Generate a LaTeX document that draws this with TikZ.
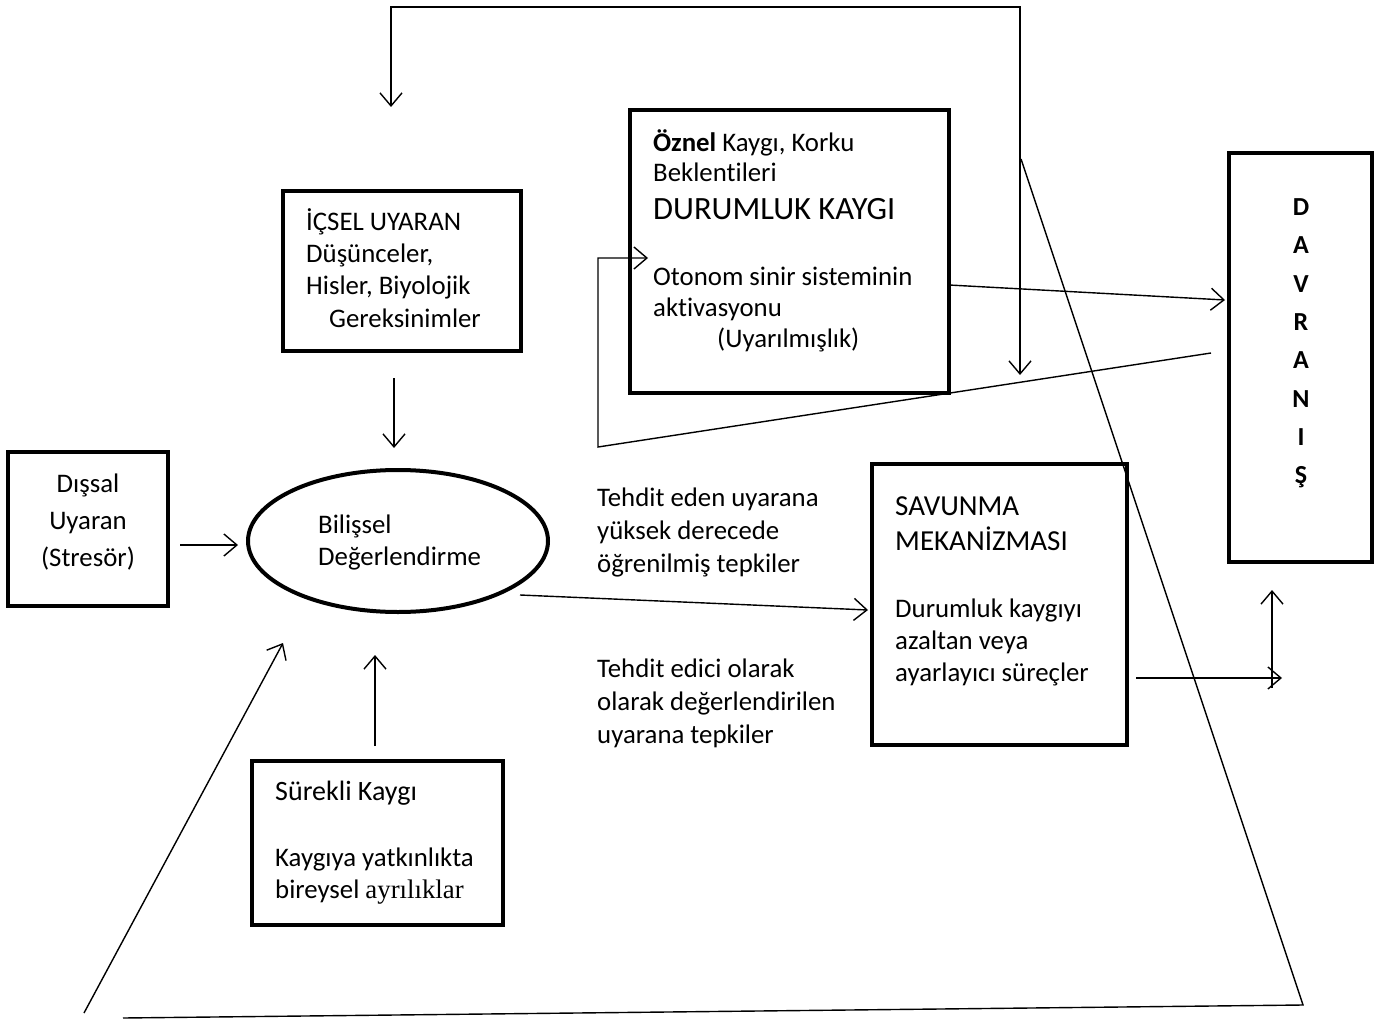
\documentclass[tikz,border=0pt]{standalone}
\usepackage{fontspec}
\setmainfont[Ligatures=NoCommon]{Carlito}
\newfontfamily\tnr{Liberation Serif}
\usetikzlibrary{arrows.meta,shapes.geometric}
\newcommand\fsn{\fontsize{26.8}{32}\selectfont}
\newcommand\fsb{\fontsize{29}{35}\selectfont}
\newcommand\fsc{\fontsize{32.5}{38}\selectfont}
\newcommand\fsd{\fontsize{26}{30}\selectfont\bfseries}
\begin{document}
\begin{tikzpicture}[x=1pt,y=-1pt,
  box/.style={draw, line width=3.5pt, inner sep=0pt},
  txt/.style={anchor=base west, inner sep=0pt, font=\fsn},
  ctxt/.style={anchor=base, inner sep=0pt, font=\fsn},
  conn/.style={line width=1.4pt},
  arr/.style={conn, -{Straight Barb[length=13pt,width=22pt]}},
  letter/.style={anchor=base, inner sep=0pt, font=\fsd}]
\useasboundingbox (0,0) rectangle (1384,1019);
\fill[white] (0,0) rectangle (1384,1019);

% boxes
\node[box, minimum width=160pt, minimum height=154pt] (dis) at (88,529) {};
\node[box, minimum width=238pt, minimum height=160pt] (ic) at (402,271) {};
\node[box, minimum width=319pt, minimum height=283pt] (oz) at (789.5,251.5) {};
\node[box, minimum width=143pt, minimum height=409pt] (dv) at (1300.5,357.5) {};
\node[box, minimum width=255pt, minimum height=281pt] (sv) at (999.5,604.5) {};
\node[box, minimum width=251pt, minimum height=164pt] (su) at (377.5,843) {};
\node[draw, ellipse, line width=4pt, minimum width=300pt, minimum height=142pt, inner sep=0pt] (ell) at (398,541) {};

% texts
\node[ctxt] (dis1) at (88,492) {Dışsal};
\node[ctxt] (dis2) at (88,529) {Uyaran};
\node[ctxt] (dis3) at (88,566) {(Stresör)};

\node[txt] (ic1) at (306,230) {İÇSEL UYARAN};
\node[txt] (ic2) at (306,262) {Düşünceler,};
\node[txt] (ic3) at (306,294) {Hisler, Biyolojik};
\node[txt] (ic4) at (329,327) {Gereksinimler};

\node[txt] (oz1) at (653,152) {\textbf{Öznel} Kaygı, Korku};
\node[txt] (oz2) at (653,182) {Beklentileri};
\node[txt, font=\fsc] (oz3) at (653,219) {DURUMLUK KAYGI};
\node[txt] (oz4) at (653,285) {Otonom sinir sisteminin};
\node[txt] (oz5) at (653,316) {aktivasyonu};
\node[txt] (oz6) at (717,347) {(Uyarılmışlık)};

\node[txt] (bi1) at (318,533) {Bilişsel};
\node[txt] (bi2) at (318,565) {Değerlendirme};

\node[txt] (t1) at (597,506) {Tehdit eden uyarana};
\node[txt] (t2) at (597,539) {yüksek derecede};
\node[txt] (t3) at (597,572) {öğrenilmiş tepkiler};
\node[txt] (t4) at (597,677) {Tehdit edici olarak};
\node[txt] (t5) at (597,710) {olarak değerlendirilen};
\node[txt] (t6) at (597,743) {uyarana tepkiler};

\node[txt, font=\fsb] (sv1) at (895,515) {SAVUNMA};
\node[txt, font=\fsb] (sv2) at (895,550) {MEKANİZMASI};
\node[txt] (sv3) at (895,617) {Durumluk kaygıyı};
\node[txt] (sv4) at (895,649) {azaltan veya};
\node[txt] (sv5) at (895,681) {ayarlayıcı süreçler};

\node[txt, font=\fontsize{28}{34}\selectfont] (su1) at (275,800) {Sürekli Kaygı};
\node[txt] (su2) at (275,866) {Kaygıya yatkınlıkta};
\node[txt] (su3) at (275,898) {bireysel {\tnr ayrılıklar}};

\node[letter] (d1) at (1301,215) {D};
\node[letter] (d2) at (1301,253) {A};
\node[letter] (d3) at (1301,292) {V};
\node[letter] (d4) at (1301,330) {R};
\node[letter] (d5) at (1301,368) {A};
\node[letter] (d6) at (1301,407) {N};
\node[letter] (d7) at (1301,445) {I};
\node[letter] (d8) at (1301,483) {Ş};

% connector end points
\coordinate (c1s) at (180,545); \coordinate (c1e) at (238,545);
\coordinate (c2s) at (394,378); \coordinate (c2e) at (394,448);
\coordinate (c3s) at (375,746); \coordinate (c3e) at (375,655);
\coordinate (c4s) at (84,1013); \coordinate (c4e) at (283,643);
\coordinate (b1) at (1021,159); \coordinate (b2) at (1303,1005); \coordinate (b3) at (123,1018);
\coordinate (l1) at (391,107); \coordinate (l2) at (391,7); \coordinate (l3) at (1020,7); \coordinate (l4) at (1020,375);
\coordinate (c6s) at (949,285); \coordinate (c6e) at (1225,300);
\coordinate (c7s) at (1211,353); \coordinate (c7a) at (598,447); \coordinate (c7b) at (598,258); \coordinate (c7e) at (648,258);
\coordinate (c8s) at (520,595); \coordinate (c8e) at (868,610);
\coordinate (c9s) at (1136,678); \coordinate (c9e) at (1282,678);
\coordinate (c10s) at (1272,688); \coordinate (c10e) at (1272,590);

% connectors
\draw[arr] (c1s) -- (c1e);
\draw[arr] (c2s) -- (c2e);
\draw[arr] (c3s) -- (c3e);
\draw[arr] (c4s) -- (c4e);
\draw[conn] (b1) -- (b2) -- (b3);
\draw[conn, {Straight Barb[length=13pt,width=22pt]}-{Straight Barb[length=13pt,width=22pt]}] (l1) -- (l2) -- (l3) -- (l4);
\draw[arr] (c6s) -- (c6e);
\draw[arr] (c7s) -- (c7a) -- (c7b) -- (c7e);
\draw[arr] (c8s) -- (c8e);
\draw[arr] (c9s) -- (c9e);
\draw[arr] (c10s) -- (c10e);
\end{tikzpicture}
\end{document}
